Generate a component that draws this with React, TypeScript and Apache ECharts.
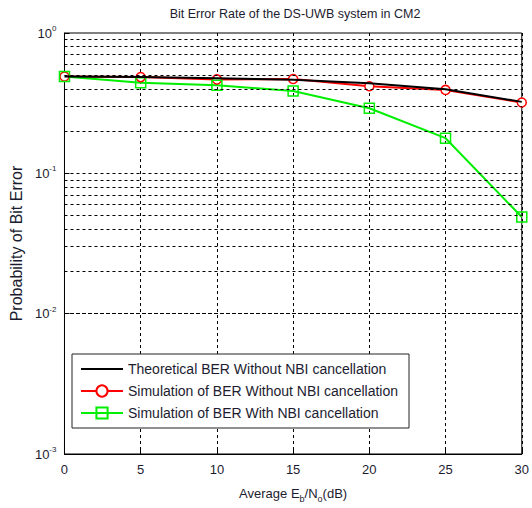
import React, { useEffect, useRef } from "react";
import * as echarts from "echarts";

const snrDb = [0, 5, 10, 15, 20, 25, 30];
const theoryNoCancel = [0.49, 0.485, 0.475, 0.465, 0.438, 0.398, 0.323];
const simNoCancel = [0.49, 0.485, 0.467, 0.47, 0.417, 0.393, 0.32];
const simWithCancel = [0.49, 0.442, 0.424, 0.386, 0.291, 0.178, 0.0488];
const minorGridValues = [
  0.002, 0.003, 0.004, 0.005, 0.006, 0.007, 0.008, 0.009, 0.01,
  0.02, 0.03, 0.04, 0.05, 0.06, 0.07, 0.08, 0.09, 0.1,
  0.2, 0.3, 0.4, 0.5, 0.6, 0.7, 0.8, 0.9,
];
const seriesNames = [
  "Theoretical BER Without NBI cancellation",
  "Simulation of BER Without NBI cancellation",
  "Simulation of BER With NBI cancellation",
];
const titleText = "Bit Error Rate of the DS-UWB system in CM2";

const FONT = "'Liberation Sans', Arial, sans-serif";
const TXT = "#1c1c30";
const LINE_ICON =
  "path://M0,0 L0.01,0 L0.01,0.01 Z M0,6 L42,6 L42,8 L0,8 Z M0,14 L0.01,14 L0.01,13.99 Z";

export default function App() {
  const ref = useRef<HTMLDivElement>(null);
  useEffect(() => {
    if (!ref.current) return;
    const chart = echarts.init(ref.current, null, { renderer: "svg" });
    const pair = (ys: number[]) => snrDb.map((x, i) => [x, ys[i]]);
    chart.setOption({
      animation: false,
      backgroundColor: "#fff",
      textStyle: { fontFamily: FONT },
      title: {
        text: titleText,
        left: 290,
        textAlign: "center",
        top: 2,
        textStyle: { fontSize: 12.5, fontWeight: "normal", color: TXT, fontFamily: FONT },
      },
      grid: {
        left: 64,
        right: 6,
        top: 33,
        bottom: 48,
        show: true,
        borderColor: "#000",
        borderWidth: 1,
        backgroundColor: "#fff",
      },
      legend: {
        orient: "vertical",
        left: 72,
        top: 354,
        backgroundColor: "#fff",
        borderColor: "#222",
        borderWidth: 1,
        borderRadius: 0,
        padding: [8, 11, 8, 8],
        itemWidth: 42,
        itemHeight: 14,
        itemGap: 8,
        textStyle: { fontSize: 14, color: TXT, fontFamily: FONT },
        data: [
          { name: seriesNames[0], icon: LINE_ICON, itemStyle: { color: "#000" } },
          { name: seriesNames[1] },
          { name: seriesNames[2] },
        ],
      },
      xAxis: {
        type: "value",
        min: 0,
        max: 30,
        interval: 5,
        name: "Average E{sub|b}/N{sub|o}(dB)",
        nameLocation: "middle",
        nameGap: 29,
        nameTextStyle: {
          fontSize: 13,
          color: TXT,
          fontFamily: FONT,
          rich: { sub: { fontSize: 9, verticalAlign: "top", padding: [11, 0, 0, 0], color: TXT } },
        },
        axisLine: { lineStyle: { color: "#000" } },
        axisTick: { inside: true, lineStyle: { color: "#000" } },
        axisLabel: { fontSize: 13, color: TXT, fontFamily: FONT, margin: 9 },
        splitLine: { show: true, lineStyle: { color: "#000", type: [3, 3], width: 1 } },
      },
      yAxis: {
        type: "log",
        logBase: 10,
        min: 0.001,
        max: 1,
        name: "Probability of Bit Error",
        nameLocation: "middle",
        nameGap: 34,
        nameTextStyle: { fontSize: 16, color: TXT, fontFamily: FONT },
        axisLine: { lineStyle: { color: "#000" } },
        axisTick: { inside: true, lineStyle: { color: "#000" } },
        splitLine: { show: false },
        axisLabel: {
          color: TXT,
          margin: 8,
          formatter: (v: number) => {
            const e = Math.round(Math.log10(v));
            return "{b|10}{s|" + e + "}";
          },
          rich: {
            b: { fontSize: 13, color: TXT, fontFamily: FONT },
            s: { fontSize: 8, color: TXT, fontFamily: FONT, verticalAlign: "top", padding: [0, 0, 9, 0] },
          },
        },
      },
      series: [
        {
          name: "grid-minor",
          type: "line",
          data: [],
          silent: true,
          markLine: {
            silent: true,
            symbol: "none",
            label: { show: false },
            lineStyle: { color: "#000", type: [3, 3], width: 1 },
            data: minorGridValues.map((v) => ({ yAxis: v })),
          },
        },
        {
          name: seriesNames[1],
          type: "line",
          data: pair(simNoCancel),
          symbol: "circle",
          symbolSize: 9,
          itemStyle: { color: "#fff", borderColor: "#ff0000", borderWidth: 1.5 },
          lineStyle: { color: "#ff0000", width: 2 },
          z: 3,
        },
        {
          name: seriesNames[2],
          type: "line",
          data: pair(simWithCancel),
          symbol: "rect",
          symbolSize: 10,
          itemStyle: { color: "rgba(0,0,0,0)", borderColor: "#00ee00", borderWidth: 1.5 },
          lineStyle: { color: "#00ee00", width: 2 },
          z: 3,
        },
        {
          name: seriesNames[0],
          type: "line",
          data: pair(theoryNoCancel),
          showSymbol: false,
          symbol: "none",
          itemStyle: { color: "#000" },
          lineStyle: { color: "#000", width: 2 },
          z: 4,
        },
      ],
    });
    return () => chart.dispose();
  }, []);
  return <div ref={ref} style={{ width: 532, height: 508, position: "absolute", left: 0, top: 0 }} />;
}
